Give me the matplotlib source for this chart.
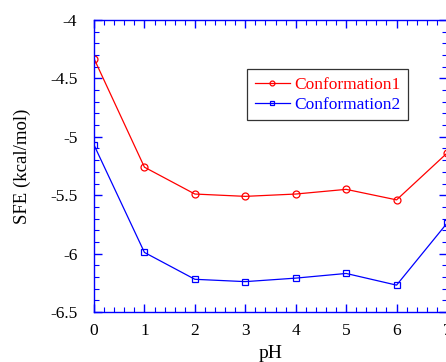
import matplotlib
matplotlib.use("Agg")
import matplotlib.pyplot as plt
from matplotlib.ticker import MultipleLocator

ph = [0, 1, 2, 3, 4, 5, 6, 7]
conf1 = [-4.33, -5.26, -5.49, -5.51, -5.49, -5.45, -5.54, -5.14]
conf2 = [-5.07, -5.99, -6.22, -6.24, -6.21, -6.17, -6.27, -5.74]

plt.rcParams['font.family'] = ['Liberation Serif', 'DejaVu Serif']

fig = plt.figure(figsize=(4.46, 3.62), dpi=100)
ax = fig.add_axes([94 / 446, 1 - 312 / 362, (447 - 94) / 446, (312 - 20) / 362])

ax.plot(ph, conf1, color='red', lw=0.9, marker='o', ms=5, mfc='none', mew=0.9,
        label='Conformation1')
ax.plot(ph, conf2, color='blue', lw=0.9, marker='s', ms=5, mfc='none', mew=0.9,
        label='Conformation2')

ax.set_xlim(0, 7)
ax.set_ylim(-6.5, -4)
ax.xaxis.set_major_locator(MultipleLocator(1))
ax.xaxis.set_minor_locator(MultipleLocator(0.2))
ax.yaxis.set_major_locator(MultipleLocator(0.5))
ax.yaxis.set_minor_locator(MultipleLocator(0.1))
ax.set_yticklabels([f'{v:g}' for v in ax.get_yticks()])

for s in ax.spines.values():
    s.set_color('blue')
    s.set_linewidth(1.0)
ax.tick_params(which='both', direction='in', color='blue', labelsize=12.5,
               top=True, right=True, labelcolor='black')
ax.tick_params(which='major', length=6, width=1.0)
ax.tick_params(axis='y', which='major', pad=12)
ax.tick_params(axis='x', which='major', pad=8)
ax.tick_params(which='minor', length=3.5, width=0.8)

ax.set_xlabel('pH', fontsize=14, labelpad=4)
ax.set_ylabel('SFE (kcal/mol)', fontsize=13.5, labelpad=14)

leg = ax.legend(loc='upper left', bbox_to_anchor=(247 / 446, 1 - 69 / 362),
                bbox_transform=fig.transFigure, borderaxespad=0,
                fontsize=12.5, frameon=True, fancybox=False,
                edgecolor='black', handlelength=2.0, handletextpad=0.25,
                borderpad=0.45, labelspacing=0.2, markerscale=0.7)
leg.get_frame().set_linewidth(0.9)
for t, c in zip(leg.get_texts(), ['red', 'blue']):
    t.set_color(c)

fig.savefig('out.png', dpi=100)
